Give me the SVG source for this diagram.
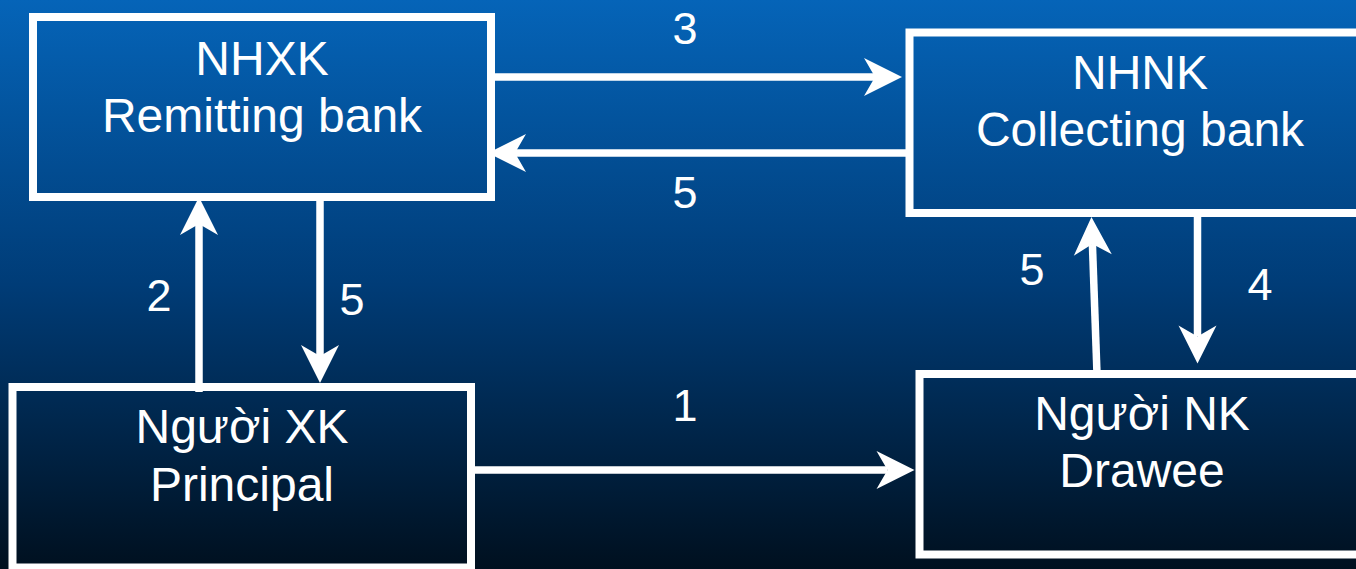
<svg xmlns="http://www.w3.org/2000/svg" width="1356" height="569" viewBox="0 0 1356 569">
  <defs>
    <linearGradient id="bg" x1="0" y1="0" x2="0" y2="1">
      <stop offset="0" stop-color="#0564B8"/>
      <stop offset="0.5" stop-color="#003C77"/>
      <stop offset="1" stop-color="#00101F"/>
    </linearGradient>
    <!-- stealth arrowhead; origin sits at the notch where the shaft ends -->
    <marker id="head" markerUnits="userSpaceOnUse" viewBox="-12 -20 40 40" markerWidth="40" markerHeight="40" refX="0" refY="0" orient="auto" overflow="visible">
      <path d="M27,0 L-11,-19 L0,0 L-11,19 Z" fill="#FFFFFF"/>
    </marker>
    <style>
      .box { fill: none; stroke: #FFFFFF; stroke-width: 8; }
      .lbl { font-family: "Liberation Sans", Arial, sans-serif; font-size: 48px; fill: #FFFFFF; text-anchor: middle; }
      .num { font-family: "Liberation Sans", Arial, sans-serif; font-size: 45px; fill: #FFFFFF; text-anchor: middle; }
      .link { stroke: #FFFFFF; stroke-width: 7.5; fill: none; marker-end: url(#head); }
    </style>
  </defs>

  <rect x="0" y="0" width="1356" height="569" fill="url(#bg)"/>

  <g id="connectors">
    <line class="link" x1="491" y1="77" x2="875" y2="77"/>
    <line class="link" x1="906" y1="153" x2="515" y2="153"/>
    <line class="link" x1="199" y1="392" x2="199" y2="224"/>
    <line class="link" x1="320" y1="199" x2="320" y2="356"/>
    <line class="link" x1="1197.5" y1="214" x2="1197.5" y2="336.5"/>
    <line class="link" x1="1097" y1="374" x2="1092.4" y2="244"/>
    <line class="link" x1="471" y1="470" x2="887.5" y2="470"/>
    <text class="num" x="685" y="44">3</text>
    <text class="num" x="685" y="208">5</text>
    <text class="num" x="159" y="311">2</text>
    <text class="num" x="352" y="315">5</text>
    <text class="num" x="1032" y="285">5</text>
    <text class="num" x="1260" y="300">4</text>
    <text class="num" x="685" y="421">1</text>
  </g>

  <g id="remitting-bank">
    <rect class="box" x="33" y="17" width="458" height="180"/>
    <text class="lbl" x="262" y="75">NHXK</text>
    <text class="lbl" x="262" y="132">Remitting bank</text>
  </g>

  <g id="collecting-bank">
    <rect class="box" x="909.5" y="32.5" width="461" height="180.5"/>
    <text class="lbl" x="1140" y="89">NHNK</text>
    <text class="lbl" x="1140" y="146">Collecting bank</text>
  </g>

  <g id="principal">
    <rect class="box" x="12.5" y="387" width="458.5" height="180.5"/>
    <text class="lbl" x="242" y="443">Người XK</text>
    <text class="lbl" x="242" y="501">Principal</text>
  </g>

  <g id="drawee">
    <rect class="box" x="919.5" y="374" width="445" height="180.5"/>
    <text class="lbl" x="1142" y="430">Người NK</text>
    <text class="lbl" x="1142" y="487">Drawee</text>
  </g>
</svg>
